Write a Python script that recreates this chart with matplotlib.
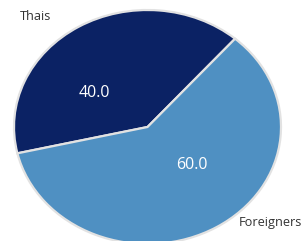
import matplotlib
matplotlib.use("Agg")
import matplotlib.pyplot as plt

categories = ["Thais", "Foreigners"]
values = [40.0, 60.0]
colors = ["#0b2264", "#4f90c2"]

fig = plt.figure(figsize=(3.04, 2.41), dpi=100)
W, H = 304, 241
# ellipse bounds in pixels: x 14..281, y(top) 10..244
ax = fig.add_axes([14 / W, (H - 244) / H, 267 / W, 234 / H])
wedges, _ = ax.pie(values, colors=colors, startangle=49, counterclock=True,
                   wedgeprops=dict(edgecolor="#e2e2e2", linewidth=1.6))
ax.set_aspect("auto")
ax.set_xlim(-1, 1)
ax.set_ylim(-1, 1)
ax.axis("off")

font = "Open Sans"
# value labels
val_pos = [(-0.40, 0.29), (0.33, -0.325)]
for v, (x, y) in zip(values, val_pos):
    ax.text(x, y, f"{v:.1f}", color="white", ha="center", va="center",
            fontsize=11.5, family=font)
# category labels
cat_pos = [(-0.84, 0.945), (0.92, -0.815)]
for c, (x, y) in zip(categories, cat_pos):
    ax.text(x, y, c, color="#333333", ha="center", va="center",
            fontsize=9.2, family=font, clip_on=False)

fig.savefig("out.png", dpi=100)
